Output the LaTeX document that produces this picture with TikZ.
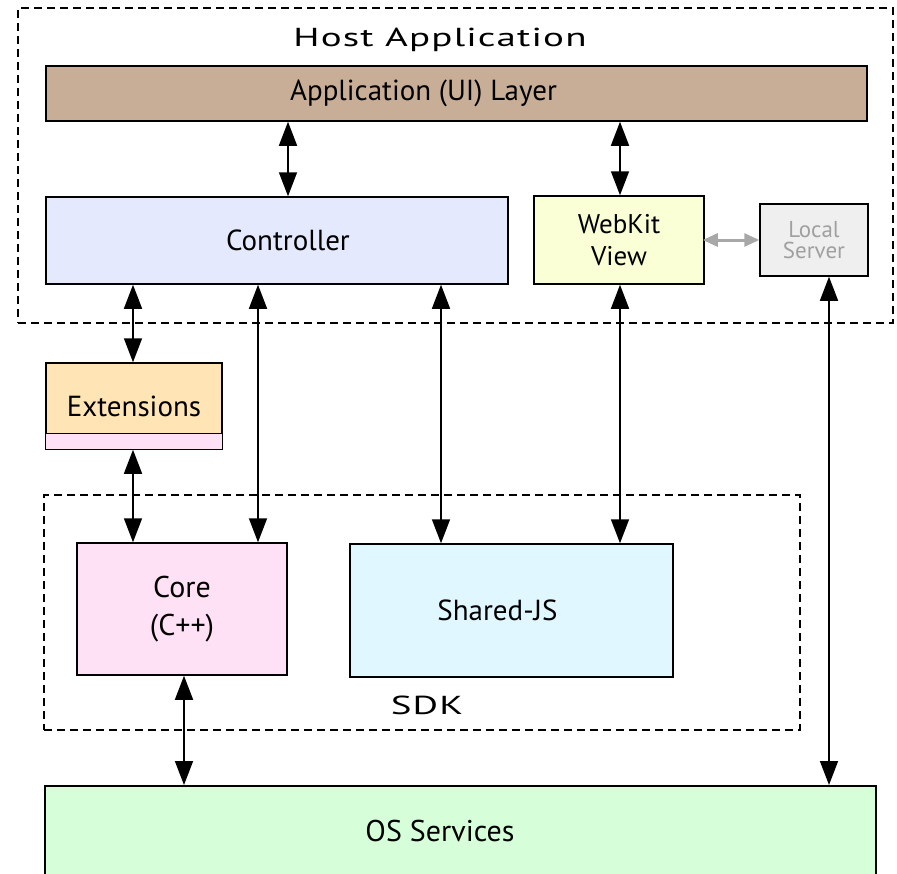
\documentclass[tikz,border=0pt]{standalone}
\usepackage{fontspec}
\setmainfont{PT Sans}
\newfontfamily\widefont[LetterSpace=3]{PT Sans}
\usetikzlibrary{arrows.meta}
\definecolor{apptan}{HTML}{C8AE96}
\definecolor{ctrlblue}{HTML}{E5E9FE}
\definecolor{webyellow}{HTML}{FBFFD5}
\definecolor{localgray}{HTML}{EFEFEF}
\definecolor{localtext}{HTML}{A0A0A0}
\definecolor{extorange}{HTML}{FFE5B5}
\definecolor{corepink}{HTML}{FFE1F6}
\definecolor{sharedcyan}{HTML}{E0F7FF}
\definecolor{osgreen}{HTML}{D6FFD9}
\definecolor{grayarrow}{HTML}{A8A8A8}
\tikzset{
  box/.style={draw=black, line width=1.5pt, inner sep=0pt, align=center, font=\fontsize{29}{34}\selectfont},
  dashbox/.style={draw=black, dashed, dash pattern=on 8pt off 5pt, line width=1.4pt, inner sep=0pt},
  biarrow/.style={line width=1.6pt, {Triangle[width=18pt,length=24pt]}-{Triangle[width=18pt,length=24pt]}},
  grayarr/.style={draw=grayarrow, line width=3pt, {Triangle[width=13pt,length=15pt]}-{Triangle[width=13pt,length=15pt]}},
  titlelabel/.style={font=\widefont\fontsize{26}{30}\selectfont, inner sep=0pt, xscale=1.5}
}
\begin{document}
\begin{tikzpicture}[x=1pt,y=-1pt]
\clip (0,0) rectangle (897,873);
\fill[white] (0,0) rectangle (897,873);
% containers
\node[dashbox, minimum width=875pt, minimum height=315pt] (host) at (455.5,165.5) {};
\node[titlelabel] (hosttitle) at (440,40) {Host Application};
\node[dashbox, minimum width=756pt, minimum height=235pt] (sdk) at (422,612.5) {};
\node[titlelabel] (sdktitle) at (427,705) {SDK};
% boxes
\node[box, fill=apptan, minimum width=821pt, minimum height=55pt] (app) at (456.5,93.5) {Application (UI) Layer\hspace{66pt}};
\node[box, fill=ctrlblue, minimum width=462pt, minimum height=87pt] (ctrl) at (277,240.5) {\hspace{22pt}Controller};
\node[box, fill=webyellow, minimum width=170pt, minimum height=88pt, font=\fontsize{27}{32}\selectfont] (webkit) at (619,240) {WebKit\\View};
\node[box, fill=localgray, minimum width=108pt, minimum height=72pt, text=localtext, font=\fontsize{23}{21}\selectfont] (local) at (814,240) {Local\\Server};
\node[box, fill=extorange, minimum width=176pt, minimum height=86pt] (ext) at (134,406) {Extensions};
\draw[line width=1.2pt, fill=corepink] (ext.south west) rectangle ([yshift=16pt]ext.south east);
\node[box, fill=corepink, minimum width=210pt, minimum height=132pt, font=\fontsize{30}{38}\selectfont] (core) at (182,609) {Core\\(C++)};
\node[box, fill=sharedcyan, minimum width=323pt, minimum height=133pt] (shared) at (511.5,610.5) {Shared-JS\hspace{28pt}};
\node[box, fill=osgreen, minimum width=831pt, minimum height=115pt, anchor=north west] (os) at (44,785) {};
\node[font=\fontsize{30}{34}\selectfont] (oslabel) at (440,831) {OS Services};
% column coordinates
\coordinate (cA) at (288,0);
\coordinate (cB) at (620,0);
\coordinate (cC) at (133,0);
\coordinate (cD) at (258,0);
\coordinate (cE) at (441,0);
\coordinate (cF) at (829,0);
\coordinate (cG) at (184,0);
% connectors
\draw[biarrow] (app.south -| cA) -- (ctrl.north -| cA);
\draw[biarrow] (app.south -| cB) -- (webkit.north -| cB);
\draw[biarrow] (ctrl.south -| cC) -- (ext.north -| cC);
\draw[biarrow] (ctrl.south -| cD) -- (core.north -| cD);
\draw[biarrow] (ctrl.south -| cE) -- (shared.north -| cE);
\draw[biarrow] (webkit.south -| cB) -- (shared.north -| cB);
\draw[biarrow] (local.south -| cF) -- (os.north -| cF);
\draw[biarrow] (ext.south -| cC) -- (core.north -| cC);
\draw[biarrow] (core.south -| cG) -- (os.north -| cG);
\draw[grayarr] ([xshift=-2pt]webkit.east) -- (local.west);
\end{tikzpicture}
\end{document}
